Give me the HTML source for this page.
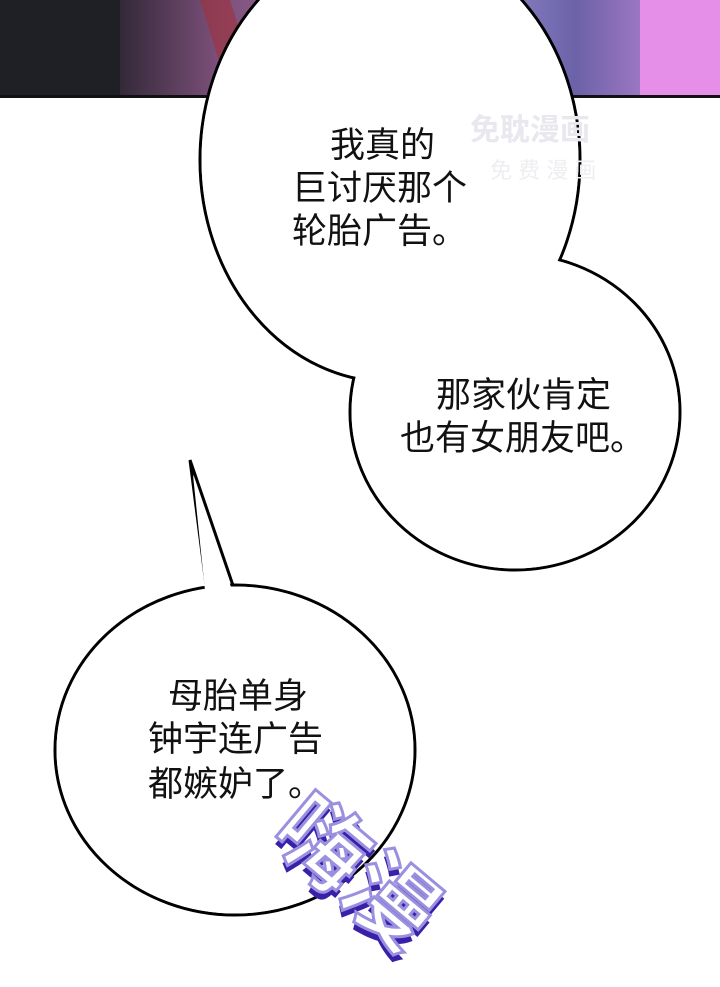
<!DOCTYPE html>
<html><head><meta charset="utf-8"><style>
html,body{margin:0;padding:0;background:#fff;width:720px;height:987px;overflow:hidden}
svg{display:block;overflow:hidden}
text{font-family:"Liberation Sans","Noto Sans CJK SC",sans-serif;font-size:35px;fill:#111}
</style></head><body>
<svg width="720" height="987" viewBox="0 0 720 987" xmlns="http://www.w3.org/2000/svg">
<defs>
<linearGradient id="g" x1="0" x2="1" y1="0" y2="0">
<stop offset="0" stop-color="#1d1d24"/><stop offset="0.15" stop-color="#2a2430"/>
<stop offset="0.3" stop-color="#7a4f78"/><stop offset="0.45" stop-color="#9a6c9a"/>
<stop offset="0.65" stop-color="#9890d0"/><stop offset="0.8" stop-color="#6b62a8"/>
<stop offset="1" stop-color="#d88fe0"/></linearGradient>
</defs>
<rect x="0" y="0" width="720" height="97" fill="url(#g)"/>
<rect x="0" y="0" width="120" height="97" fill="#1f1f26"/>
<path d="M200 0 L230 97 L260 97 L230 0Z" fill="#a0303a" opacity="0.6"/>
<rect x="640" y="0" width="80" height="97" fill="#e58fe8"/>
<rect x="0" y="95" width="720" height="3" fill="#111"/>
<g stroke="#000" stroke-width="3" fill="#fff">
<ellipse cx="390" cy="160" rx="190" ry="222"/>
<ellipse cx="515" cy="412" rx="165" ry="158"/>
<path d="M190 460 L208 600 L238 600Z"/>
<ellipse cx="235" cy="750" rx="180" ry="165"/>
</g>
<g fill="#fff">
<ellipse cx="390" cy="160" rx="188.5" ry="220.5"/>
<ellipse cx="515" cy="412" rx="163.5" ry="156.5"/>
<ellipse cx="235" cy="750" rx="178.5" ry="163.5"/>
<path d="M193 475 L207 610 L236 610 L232 590Z"/>
</g>
<text x="330" y="157">我真的</text>
<text x="292" y="200">巨讨厌那个</text>
<text x="292" y="243">轮胎广告。</text>
<text x="436" y="407">那家伙肯定</text>
<text x="400" y="450">也有女朋友吧。</text>
<text x="168" y="708">母胎单身</text>
<text x="148" y="751">钟宇连广告</text>
<text x="148" y="796">都嫉妒了。</text>
<text x="470" y="140" style="font-size:30px;fill:#e8e8ee;font-weight:bold">免耽漫画</text>
<text x="490" y="178" style="font-size:22px;fill:#eeeef2">免 费 漫 画</text>
<g transform="translate(305,800) rotate(40)" style="font-weight:bold">
<text x="0" y="60" style="font-size:90px;fill:#3a20a8">嗨漫</text>
<text x="-4" y="54" style="font-size:90px;fill:#fff;stroke:#9a90e0;stroke-width:3">嗨漫</text>
</g>
</svg>
</body></html>
